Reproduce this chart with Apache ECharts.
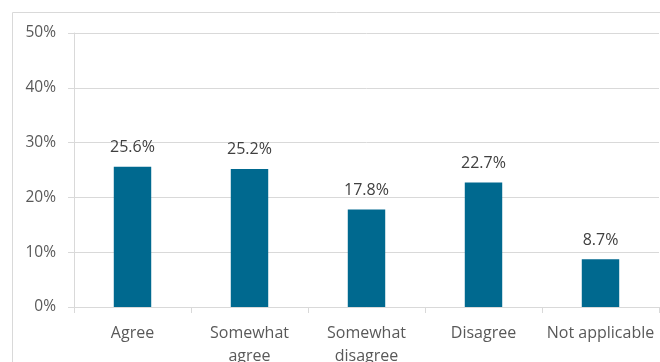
<!DOCTYPE html>
<html>
<head>
<meta charset="utf-8">
<script src="https://cdn.jsdelivr.net/npm/echarts@6/dist/echarts.min.js"></script>
<style>html,body{margin:0;padding:0;background:#fff}#c{width:660px;height:362px}</style>
</head>
<body>
<div id="c"></div>
<script>
const categories = ["Agree", "Somewhat\nagree", "Somewhat\ndisagree", "Disagree", "Not applicable"];
const values = [25.6, 25.2, 17.8, 22.7, 8.7];
const yTicks = [0, 10, 20, 30, 40, 50];

const chart = echarts.init(document.getElementById('c'));
const font = '"Open Sans", sans-serif';
chart.setOption({
  animation: false,
  graphic: [{
    type: 'rect', left: 10, top: 10, silent: true,
    shape: { x: 0, y: 0, width: 700, height: 400 },
    style: { fill: 'none', stroke: '#d9d9d9', lineWidth: 1 }
  }],
  grid: { left: 74, right: 1, top: 33, bottom: 55, containLabel: false, outerBoundsMode: 'none' },
  xAxis: {
    type: 'category', data: categories,
    axisLine: { lineStyle: { color: '#d9d9d9' } },
    axisTick: { show: true, length: 6, lineStyle: { color: '#d9d9d9' } },
    axisLabel: { color: '#595959', fontFamily: font, fontSize: 16, margin: 15, lineHeight: 23, interval: 0 }
  },
  yAxis: {
    type: 'value', min: yTicks[0], max: yTicks[yTicks.length - 1], interval: 10,
    axisLine: { show: true, lineStyle: { color: '#d9d9d9' } },
    axisTick: { show: true, length: 6, lineStyle: { color: '#d9d9d9' } },
    splitLine: { lineStyle: { color: '#d9d9d9' } },
    axisLabel: { color: '#595959', fontFamily: font, fontSize: 15.5, margin: 18, formatter: v => v + '%' }
  },
  series: [{
    type: 'bar', data: values, barWidth: '32%',
    itemStyle: { color: '#00698f' },
    label: { show: true, position: 'top', distance: 11, color: '#404040', fontFamily: font, fontSize: 16, formatter: p => p.value.toFixed(1) + '%' }
  }]
});
</script>
</body>
</html>
